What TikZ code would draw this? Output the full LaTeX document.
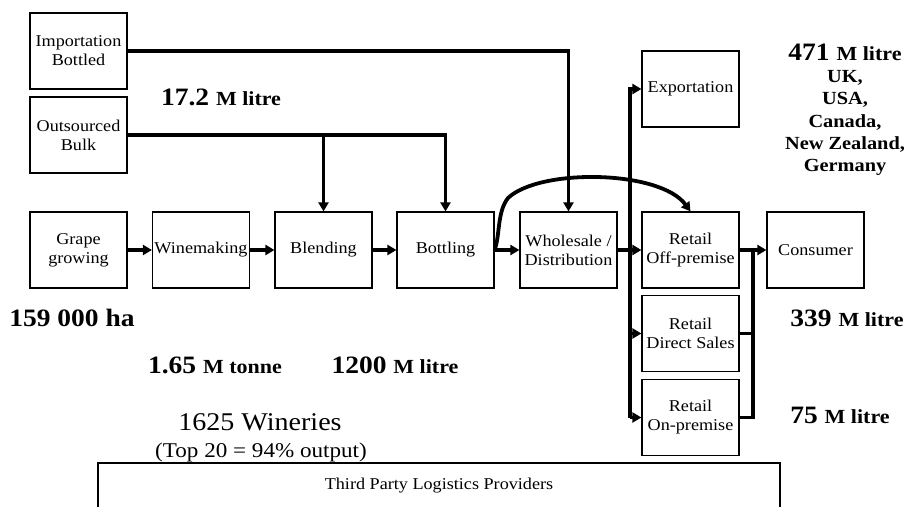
\documentclass[tikz,border=0pt]{standalone}
\usepackage{fontspec}
\setmainfont{Liberation Serif}[FakeStretch=1.1]
\usetikzlibrary{arrows.meta}
\tikzset{
  box/.style={draw, line width=1.2pt, minimum width=97pt, minimum height=76pt,
    inner sep=0pt, align=center, font=\fontsize{16.5}{19}\selectfont},
  conn/.style={line width=3.8pt, line join=miter, -{Triangle[length=9pt,width=10pt]}},
  plain/.style={line width=3.8pt, line join=miter},
  num/.style={inner sep=0pt, font=\bfseries\fontsize{25}{27}\selectfont},
  small/.style={font=\bfseries\fontsize{20}{22}\selectfont},
}
\newcommand{\sm}[1]{{\fontsize{20}{22}\selectfont #1}}
\begin{document}
\begin{tikzpicture}[x=1pt,y=-1pt]
\useasboundingbox (0,0) rectangle (907,506);
\fill[white] (0,0) rectangle (907,506);
\clip (0,0) rectangle (907,506);

% boxes
\node[box] (imp) at (78.5,51) {Importation\\Bottled};
\node[box] (out) at (78.5,135) {Outsourced\\Bulk};
\node[box] (grape) at (78.5,250) {Grape\\growing};
\node[box] (wine) at (201,250) {Winemaking};
\node[box] (blend) at (323.5,250) {Blending};
\node[box] (bottl) at (445.5,250) {Bottling};
\node[box] (whole) at (568.5,250) {Wholesale /\\Distribution};
\node[box] (exp) at (690.5,89) {Exportation};
\node[box] (off) at (690.5,250) {Retail\\Off-premise};
\node[box] (direct) at (690.5,333.5) {Retail\\Direct Sales};
\node[box] (on) at (690.5,417.5) {Retail\\On-premise};
\node[box] (cons) at (815.5,250) {Consumer};
\node[draw, line width=1.2pt, minimum width=682pt, minimum height=46pt, inner sep=0pt,
      font=\fontsize{16.5}{19}\selectfont] (tpl) at (439,486) {Third Party Logistics Providers};

% top feeds
\draw[conn] (imp.east) -| (whole.north);
\draw[conn] (out.east) -| (bottl.north);
\coordinate (jb) at (blend.north |- out.east);
\draw[conn] (jb) -- (blend.north);

% main chain
\draw[conn] (grape.east) -- (wine.west);
\draw[conn] (wine.east) -- (blend.west);
\draw[conn] (blend.east) -- (bottl.west);
\draw[conn] (bottl.east) -- (whole.west);
\draw[conn] (whole.east) -- (off.west);
\draw[conn] (off.east) -- (cons.west);

% curve bottling -> off-premise
\draw[conn] (bottl.east) .. controls (500,236) and (497,212) .. (508,198)
  .. controls (540,168) and (660,170) .. (off.north);

% left distribution bus
\coordinate (Lbot) at (630,417.5);
\draw[conn] (Lbot) |- (exp.west);
\draw[conn] (Lbot) -- (on.west);
\coordinate (Lmid) at (direct.west -| Lbot);
\draw[conn] (Lmid) -- (direct.west);

% right collector bus
\coordinate (Rtop) at (753,250);
\draw[plain] (on.east) -| (Rtop);
\coordinate (Rmid) at (direct.east -| Rtop);
\draw[plain] (direct.east) -- (Rmid);

% labels
\node[num] (l172) at (221,97) {17.2 \sm{M litre}};
\node[num] (l471) at (845,52) {471 \sm{M litre}};
\node[inner sep=0pt, align=center, font=\bfseries\fontsize{18.5}{22.3}\selectfont] (lcty) at (845,123)
  {UK,\\USA,\\Canada,\\New Zealand,\\Germany};
\node[num] (l159) at (72,318) {159 000 ha};
\node[num] (l165) at (215,365) {1.65 \sm{M tonne}};
\node[num] (l1200) at (395,365) {1200 \sm{M litre}};
\node[num] (l339) at (847,318) {339 \sm{M litre}};
\node[num] (l75) at (840,415) {75 \sm{M litre}};
\node[inner sep=0pt, font=\fontsize{25.5}{28}\selectfont] (lwin) at (260,422) {1625 Wineries};
\node[inner sep=0pt, font=\fontsize{21}{24}\selectfont] (ltop) at (261,452) {(Top 20 = 94\% output)};
\end{tikzpicture}
\end{document}
